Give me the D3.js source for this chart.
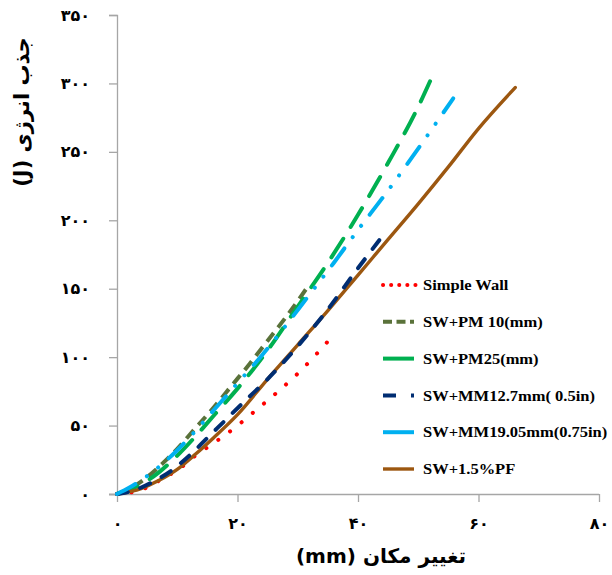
<!DOCTYPE html>
<html><head><meta charset="utf-8">
<script src="https://cdn.jsdelivr.net/npm/d3@7"></script>
<style>body{margin:0;background:#fff}svg{display:block}</style>
</head><body>
<svg id="c" width="612" height="575"></svg>
<script>
// ---- data (displacement mm, energy J) ----
const seriesNames = ["Simple Wall","SW+PM 10(mm)","SW+PM25(mm)","SW+MM12.7mm( 0.5in)","SW+MM19.05mm(0.75in)","SW+1.5%PF"];
const dispSW   = [0,4,7.5,10.5,13,16,20,23,26.5,30,35.5];
const enSW     = [0,3,11,19,28,37,50,61,74,88,114];
const dispPM10 = [0,2,4,7,10,13,16,19,22,25,28,31.9];
const enPM10   = [0,3.5,9,20,33,48,63,79,95,112,129,153];
const dispPM25 = [0,2,4,7,10,13,16,20,25,30,35,40,45,50,52.1];
const enPM25   = [0,3,7,16,28,42,57,77,105,137,169,204,242,283,303];
const dispMM12 = [0,3,6,9,12,15,18,21,25,30,35,40,43.8];
const enMM12   = [0,3,9,17,28,41,54,67,84,108,135,165,187];
const dispMM19 = [0,2,4,7,10,13,16,20,24,28,32,36,40,44,48,52,55.8];
const enMM19   = [0,4.5,10,20,32,46,61,81,101,123,146,169,193,216,240,265,289];
const dispPF   = [0,4,7,10,13,16,20,25,30,35,40,45,50,55,60,66.1];
const enPF     = [0,4,10,18,29,41,58,84,109,134,160,186,212,239,267,297];
const xTicks = [0,20,40,60,80];
const yTicks = [0,50,100,150,200,250,300,350];
const xTitle = "تغییر مکان (mm)";
const yTitle = "جذب انرژی (J)";

const fa = n => String(n).replace(/\d/g, d => "۰۱۲۳۴۵۶۷۸۹"[d]);

const svg = d3.select("#c");
const x = d3.scaleLinear().domain([0,80]).range([117,599]);
const y = d3.scaleLinear().domain([0,350]).range([494,15]);
const axisColor = "#a6a6a6";

// axes
const gx = svg.append("g").attr("transform","translate(0,494)")
  .call(d3.axisBottom(x).tickValues(xTicks).tickSize(8).tickFormat(fa));
const gy = svg.append("g").attr("transform","translate(117,0)")
  .call(d3.axisLeft(y).tickValues(yTicks).tickSize(8).tickFormat(fa));
[gx,gy].forEach(g=>{
  g.select(".domain").attr("stroke",axisColor).attr("stroke-width",1.3);
  g.selectAll(".tick line").attr("stroke",axisColor).attr("stroke-width",1.3);
  g.selectAll("text").attr("font-family","DejaVu Sans").attr("font-weight","bold")
   .attr("font-size",16).attr("fill","#000");
});
gx.select(".domain").attr("d","M109,0.5H599");
gx.selectAll(".tick text").attr("y",24);
gy.selectAll(".tick text").attr("x",-27);

// series
const series = [
  {name:seriesNames[0], d:dispSW,   e:enSW,   color:"#ff0000", w:4,   dash:"0.1 14.5", cap:"round", ldash:"0.1 8"},
  {name:seriesNames[1], d:dispPM10, e:enPM10, color:"#5a723a", w:4,   dash:"11 7",     cap:"butt",  ldash:"9 4.5"},
  {name:seriesNames[2], d:dispPM25, e:enPM25, color:"#00b050", w:4,   dash:"22 14",    cap:"round", ldash:null},
  {name:seriesNames[3], d:dispMM12, e:enMM12, color:"#002d72", w:4,   dash:"11 13",    cap:"round", ldash:"13 15"},
  {name:seriesNames[4], d:dispMM19, e:enMM19, color:"#00b0f0", w:4,   dash:"21 14 0.1 14 0.1 14", cap:"round", ldash:null},
  {name:seriesNames[5], d:dispPF,   e:enPF,   color:"#9c5710", w:3.4, dash:null,       cap:"round", ldash:null}
];
const line = d3.line().x(p=>x(p[0])).y(p=>y(p[1])).curve(d3.curveMonotoneX);
const drawOrder = [0,1,2,5,3,4];
drawOrder.forEach(i=>{
  const s = series[i];
  svg.append("path").datum(s.d.map((v,k)=>[v,s.e[k]]))
    .attr("d",line).attr("fill","none").attr("stroke",s.color)
    .attr("stroke-width",s.w).attr("stroke-linecap",s.cap)
    .attr("stroke-dasharray",s.dash);
});

// legend
const ly = d3.scalePoint().domain(seriesNames).range([285,469]);
const lg = svg.append("g");
series.forEach(s=>{
  const yy = ly(s.name);
  const dotted = s.ldash && s.ldash.startsWith("0.1");
  lg.append("line").attr("x1",383).attr("x2",dotted?417:414)
    .attr("y1",yy).attr("y2",yy).attr("stroke",s.color).attr("stroke-width",s.w)
    .attr("stroke-linecap", dotted ? "round":"butt")
    .attr("stroke-dasharray",s.ldash);
  lg.append("text").attr("transform",`translate(423,${yy}) scale(1.1,1)`).attr("dy","0.35em")
    .attr("font-family","Liberation Serif").attr("font-weight","bold").attr("font-size",15)
    .attr("fill","#000").text(s.name);
});

// titles
svg.append("text").attr("x",381).attr("y",563).attr("text-anchor","middle")
  .attr("direction","rtl").attr("font-family","DejaVu Sans").attr("font-weight","bold")
  .attr("font-size",20).text(xTitle);
svg.append("text").attr("transform","translate(29,112) rotate(-90)").attr("text-anchor","middle")
  .attr("direction","rtl").attr("font-family","DejaVu Sans").attr("font-weight","bold")
  .attr("font-size",21).text(yTitle);
</script>
</body></html>
